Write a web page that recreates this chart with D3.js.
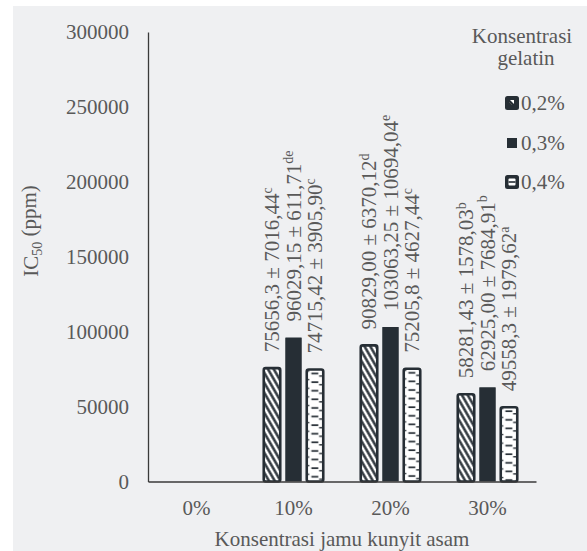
<!DOCTYPE html>
<html><head><meta charset="utf-8">
<script src="https://cdn.jsdelivr.net/npm/d3@7"></script>
</head><body style="margin:0"><svg id="c" width="587" height="551" style="display:block" font-family="Liberation Serif"></svg>
<script>
const categories = ["0%","10%","20%","30%"];
const series = ["0,2%","0,3%","0,4%"];
const values02 = [null, 75656.3, 90829.00, 58281.43];
const values03 = [null, 96029.15, 103063.25, 62925.00];
const values04 = [null, 74715.42, 75205.8, 49558.3];
const labels02 = [null, ["75656,3 ± 7016,44","c"], ["90829,00 ± 6370,12","d"], ["58281,43 ± 1578,03","b"]];
const labels03 = [null, ["96029,15 ± 611,71","de"], ["103063,25 ± 10694,04","e"], ["62925,00 ± 7684,91","b"]];
const labels04 = [null, ["74715,42 ± 3905,90","c"], ["75205,8 ± 4627,44","c"], ["49558,3 ± 1979,62","a"]];
const yTicks = [0,50000,100000,150000,200000,250000,300000];

const svg = d3.select("#c");
const dark = "#262e35";
const txtCol = "#595959";
const FS = 21, SS = 14;
function T(sel, size){ return sel.attr("font-family","Liberation Serif").style("font-family","Liberation Serif").attr("font-size",size).attr("fill",txtCol); }

svg.append("rect").attr("x",13).attr("y",6).attr("width",574).attr("height",545).attr("fill","#eff0f2");

const mLeft=148, mRight=536, mTop=32, mBottom=481.5;
const x0 = d3.scaleBand().domain(categories).range([mLeft,mRight]);
const x1 = d3.scaleBand().domain(series).range([0,x0.bandwidth()]).paddingInner(5/21.5).paddingOuter(0.872);
const y = d3.scaleLinear().domain([0,300000]).range([mBottom,mTop]);

const defs = svg.append("defs");
const allVals = [values02, values03, values04];
const allLabels = [labels02, labels03, labels04];

const ps = defs.append("pattern").attr("id","stripe").attr("patternUnits","userSpaceOnUse")
  .attr("width",20).attr("height",5).attr("patternTransform","rotate(60)");
ps.append("rect").attr("width",20).attr("height",5).attr("fill","#fff");
ps.append("line").attr("x1",0).attr("x2",20).attr("y1",2.5).attr("y2",2.5).attr("stroke",dark).attr("stroke-width",2.4);

const g = svg.append("g");
categories.forEach((c,ci)=>{
  series.forEach((s,si)=>{
    const v = allVals[si][ci];
    if (v==null) return;
    const bx = x0(c)+x1(s), bw = x1.bandwidth(), by = y(v), bh = y(0)-y(v);
    let fill = dark, stroke = "none";
    if (si===0){ fill="url(#stripe)"; stroke=dark; }
    if (si===2){
      const pid = "lad"+ci;
      const pl = defs.append("pattern").attr("id",pid).attr("patternUnits","userSpaceOnUse")
        .attr("x",bx).attr("y",by).attr("width",bw).attr("height",8.6);
      pl.append("rect").attr("width",bw).attr("height",8.6).attr("fill","#fff");
      pl.append("line").attr("x1",bw*0.28).attr("x2",bw*0.7).attr("y1",4).attr("y2",4).attr("stroke",dark).attr("stroke-width",1.7);
      pl.append("line").attr("x1",bw*0.75).attr("x2",bw).attr("y1",6.5).attr("y2",6.5).attr("stroke",dark).attr("stroke-width",1.4);
      pl.append("line").attr("x1",0).attr("x2",bw*0.15).attr("y1",1.5).attr("y2",1.5).attr("stroke",dark).attr("stroke-width",1.4);
      fill = `url(#${pid})`; stroke=dark;
    }
    g.append("rect").attr("x",bx).attr("y",by).attr("width",bw).attr("height",bh)
      .attr("rx",si===1?0.5:2).attr("fill",fill).attr("stroke",stroke).attr("stroke-width",2.6);
    const lab = allLabels[si][ci];
    const cx = bx+bw/2, ty = by-16;
    const t = T(g.append("text"),FS).attr("transform",`translate(${cx},${ty}) rotate(-90)`).attr("dy","0.35em");
    t.append("tspan").text(lab[0]);
    t.append("tspan").attr("font-size",SS).attr("dy","-0.55em").text(lab[1]);
  });
});

const yAxis = d3.axisLeft(y).tickValues(yTicks).tickSize(0).tickPadding(19).tickFormat(d3.format("d"));
const ya = svg.append("g").attr("transform",`translate(${mLeft},0)`).call(yAxis).attr("font-family","Liberation Serif");
ya.select(".domain").attr("stroke","#3a3a3a").attr("stroke-width",1.3);
T(ya.selectAll("text"),FS);

const xAxis = d3.axisBottom(x0).tickSize(0).tickPadding(19);
const xa = svg.append("g").attr("transform",`translate(0,${mBottom})`).call(xAxis).attr("font-family","Liberation Serif");
xa.select(".domain").attr("stroke","#3a3a3a").attr("stroke-width",1.3);
T(xa.selectAll("text"),FS);

T(svg.append("text"),FS).attr("x",(mLeft+mRight)/2).attr("y",546).attr("text-anchor","middle")
  .text("Konsentrasi jamu kunyit asam");
const yt = T(svg.append("text"),FS).attr("transform","translate(38,231) rotate(-90)").attr("text-anchor","middle");
yt.append("tspan").text("IC");
yt.append("tspan").attr("font-size",SS).attr("dy","0.3em").text("50");
yt.append("tspan").attr("dy","-0.3em").text(" (ppm)");

T(svg.append("text"),FS).attr("x",522).attr("y",43).attr("text-anchor","middle").text("Konsentrasi");
T(svg.append("text"),FS).attr("x",526).attr("y",65).attr("text-anchor","middle").text("gelatin");
const ly = [103,143,182];
series.forEach((s,i)=>{
  const lg = svg.append("g").attr("transform",`translate(512,${ly[i]})`);
  if (i===1){
    lg.append("rect").attr("x",-5).attr("y",-5).attr("width",10).attr("height",10).attr("fill",dark);
  } else {
    lg.append("rect").attr("x",-7).attr("y",-7).attr("width",14).attr("height",14).attr("rx",2.5).attr("fill",dark);
    if (i===0){
      lg.append("path").attr("d","M-2,-3 L2,-3 L2,1 Z").attr("fill","#fff");
      lg.append("line").attr("x1",-3).attr("y1",-1).attr("x2",0).attr("y2",2).attr("stroke","#555").attr("stroke-width",0.8);
    } else {
      lg.append("rect").attr("x",-3.5).attr("y",-3.5).attr("width",7).attr("height",7).attr("rx",1).attr("fill","#fff");
      lg.append("line").attr("x1",-3.5).attr("x2",3.5).attr("y1",0).attr("y2",0).attr("stroke",dark).attr("stroke-width",1.6);
    }
  }
  T(svg.append("text"),FS).attr("x",521).attr("y",ly[i]+7).text(s);
});
</script></body></html>
